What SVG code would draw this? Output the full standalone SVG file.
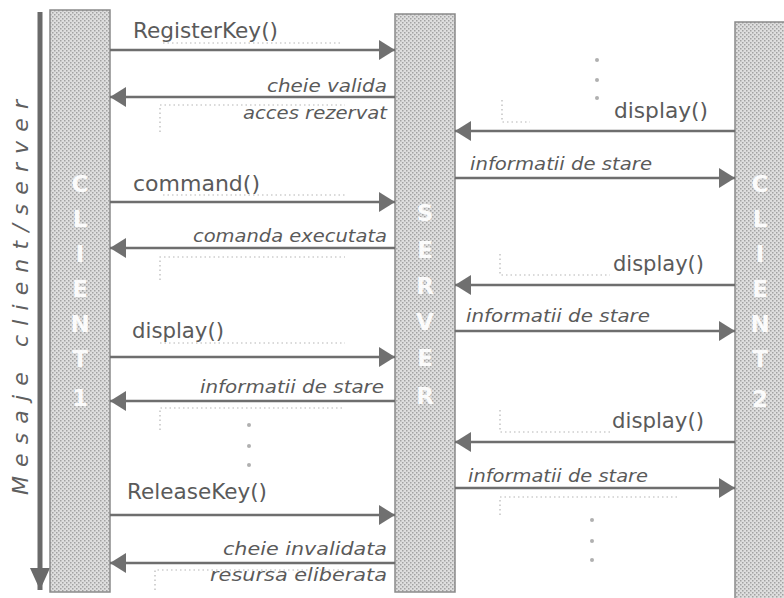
<svg xmlns="http://www.w3.org/2000/svg" width="784" height="598" viewBox="0 0 784 598">
<defs>
<pattern id="ht" width="4" height="4" patternUnits="userSpaceOnUse">
<rect width="4" height="4" fill="#dedede"/>
<rect x="0" y="0" width="1.5" height="1.5" fill="#a2a2a2"/>
<rect x="2" y="2" width="1.5" height="1.5" fill="#a2a2a2"/>
</pattern>
<marker id="ah" markerUnits="userSpaceOnUse" markerWidth="16" markerHeight="20" refX="16" refY="10" orient="auto">
<path d="M0,0 L16,10 L0,20 z" fill="#707070"/>
</marker>
<marker id="axh" markerUnits="userSpaceOnUse" markerWidth="22" markerHeight="20" refX="22" refY="10" orient="auto">
<path d="M0,0 L22,10 L0,20 z" fill="#6a6a6a"/>
</marker>
</defs>
<style>
.life{fill:url(#ht);stroke:#8a8a8a;stroke-width:1.5}
.let{font-family:"DejaVu Sans",sans-serif;font-weight:bold;font-size:23px;fill:#ffffff;text-anchor:middle;opacity:0.92}
.msg{stroke:#6e6e6e;stroke-width:2.5;fill:none}
.lbl{font-family:"DejaVu Sans",sans-serif;font-size:21px;fill:#5a5a5a}
.ret{font-family:"DejaVu Sans",sans-serif;font-style:italic;font-size:18px;fill:#5a5a5a}
.dot{stroke:#b5b5b5;stroke-width:1.2;stroke-dasharray:1.5 3;fill:none}
.sp{fill:#b0b0b0}
.axt{font-family:"DejaVu Sans",sans-serif;font-style:italic;font-size:22px;fill:#5f5f5f}
</style>
<rect width="784" height="598" fill="#ffffff"/>

<g id="axis">
<line x1="40" y1="12" x2="40" y2="590" stroke="#6a6a6a" stroke-width="5" marker-end="url(#axh)"/>
<text class="axt" transform="translate(28,495) rotate(-90)" textLength="395" lengthAdjust="spacing">Mesaje client/server</text>
</g>

<g id="client1">
<rect class="life" x="50" y="10" width="60" height="582"/>
<text class="let" x="80" y="192">C</text>
<text class="let" x="80" y="227">L</text>
<text class="let" x="80" y="262">I</text>
<text class="let" x="80" y="297">E</text>
<text class="let" x="80" y="332">N</text>
<text class="let" x="80" y="367">T</text>
<text class="let" x="80" y="406">1</text>
</g>

<g id="server">
<rect class="life" x="395" y="14" width="60" height="578"/>
<text class="let" x="425" y="221">S</text>
<text class="let" x="425" y="258">E</text>
<text class="let" x="425" y="294">R</text>
<text class="let" x="425" y="330">V</text>
<text class="let" x="425" y="366">E</text>
<text class="let" x="425" y="404">R</text>
</g>

<g id="client2">
<rect class="life" x="735" y="22" width="60" height="590"/>
<text class="let" x="760" y="192">C</text>
<text class="let" x="760" y="227">L</text>
<text class="let" x="760" y="262">I</text>
<text class="let" x="760" y="297">E</text>
<text class="let" x="760" y="332">N</text>
<text class="let" x="760" y="367">T</text>
<text class="let" x="760" y="407">2</text>
</g>

<g id="guides">
<line class="dot" x1="163" y1="43" x2="343" y2="43"/>
<path class="dot" d="M160,132 V105 H345"/>
<path class="dot" d="M502,100 V122 H530"/>
<line class="dot" x1="163" y1="195" x2="345" y2="195"/>
<path class="dot" d="M160,280 V257 H345"/>
<path class="dot" d="M500,254 V275 H610"/>
<line class="dot" x1="160" y1="343" x2="345" y2="343"/>
<path class="dot" d="M160,430 V408 H345"/>
<path class="dot" d="M500,410 V432 H610"/>
<path class="dot" d="M500,515 V497 H680"/>
<path class="dot" d="M155,590 V570 H345"/>
<circle class="sp" cx="597" cy="60" r="2"/>
<circle class="sp" cx="597" cy="80" r="2"/>
<circle class="sp" cx="597" cy="98" r="2"/>
<circle class="sp" cx="249" cy="425" r="2"/>
<circle class="sp" cx="249" cy="446" r="2"/>
<circle class="sp" cx="249" cy="465" r="2"/>
<circle class="sp" cx="592" cy="520" r="2"/>
<circle class="sp" cx="592" cy="541" r="2"/>
<circle class="sp" cx="592" cy="560" r="2"/>
</g>

<g id="connectors">
<line class="msg" x1="110" y1="50" x2="395" y2="50" marker-end="url(#ah)"/>
<line class="msg" x1="395" y1="97" x2="110" y2="97" marker-end="url(#ah)"/>
<line class="msg" x1="735" y1="131" x2="455" y2="131" marker-end="url(#ah)"/>
<line class="msg" x1="455" y1="178" x2="735" y2="178" marker-end="url(#ah)"/>
<line class="msg" x1="110" y1="202" x2="395" y2="202" marker-end="url(#ah)"/>
<line class="msg" x1="395" y1="248" x2="110" y2="248" marker-end="url(#ah)"/>
<line class="msg" x1="735" y1="285" x2="455" y2="285" marker-end="url(#ah)"/>
<line class="msg" x1="455" y1="331" x2="735" y2="331" marker-end="url(#ah)"/>
<line class="msg" x1="110" y1="357" x2="395" y2="357" marker-end="url(#ah)"/>
<line class="msg" x1="395" y1="401" x2="110" y2="401" marker-end="url(#ah)"/>
<line class="msg" x1="735" y1="442" x2="455" y2="442" marker-end="url(#ah)"/>
<line class="msg" x1="455" y1="488" x2="735" y2="488" marker-end="url(#ah)"/>
<line class="msg" x1="110" y1="515" x2="395" y2="515" marker-end="url(#ah)"/>
<line class="msg" x1="395" y1="563" x2="110" y2="563" marker-end="url(#ah)"/>
</g>

<g id="labels">
<text class="lbl" x="133" y="38" textLength="145" lengthAdjust="spacingAndGlyphs">RegisterKey()</text>
<text class="ret" x="267" y="92" textLength="120" lengthAdjust="spacingAndGlyphs">cheie valida</text>
<text class="ret" x="243" y="119" textLength="144" lengthAdjust="spacingAndGlyphs">acces rezervat</text>
<text class="lbl" x="614" y="118" textLength="94" lengthAdjust="spacingAndGlyphs">display()</text>
<text class="ret" x="470" y="170" textLength="182" lengthAdjust="spacingAndGlyphs">informatii de stare</text>
<text class="lbl" x="133" y="191" textLength="127" lengthAdjust="spacingAndGlyphs">command()</text>
<text class="ret" x="193" y="242" textLength="194" lengthAdjust="spacingAndGlyphs">comanda executata</text>
<text class="lbl" x="613" y="271" textLength="91" lengthAdjust="spacingAndGlyphs">display()</text>
<text class="ret" x="466" y="322" textLength="184" lengthAdjust="spacingAndGlyphs">informatii de stare</text>
<text class="lbl" x="132" y="338" textLength="92" lengthAdjust="spacingAndGlyphs">display()</text>
<text class="ret" x="200" y="393" textLength="184" lengthAdjust="spacingAndGlyphs">informatii de stare</text>
<text class="lbl" x="612" y="428" textLength="92" lengthAdjust="spacingAndGlyphs">display()</text>
<text class="ret" x="468" y="482" textLength="180" lengthAdjust="spacingAndGlyphs">informatii de stare</text>
<text class="lbl" x="127" y="499" textLength="140" lengthAdjust="spacingAndGlyphs">ReleaseKey()</text>
<text class="ret" x="223" y="555" textLength="164" lengthAdjust="spacingAndGlyphs">cheie invalidata</text>
<text class="ret" x="210" y="581" textLength="177" lengthAdjust="spacingAndGlyphs">resursa eliberata</text>
</g>
</svg>
